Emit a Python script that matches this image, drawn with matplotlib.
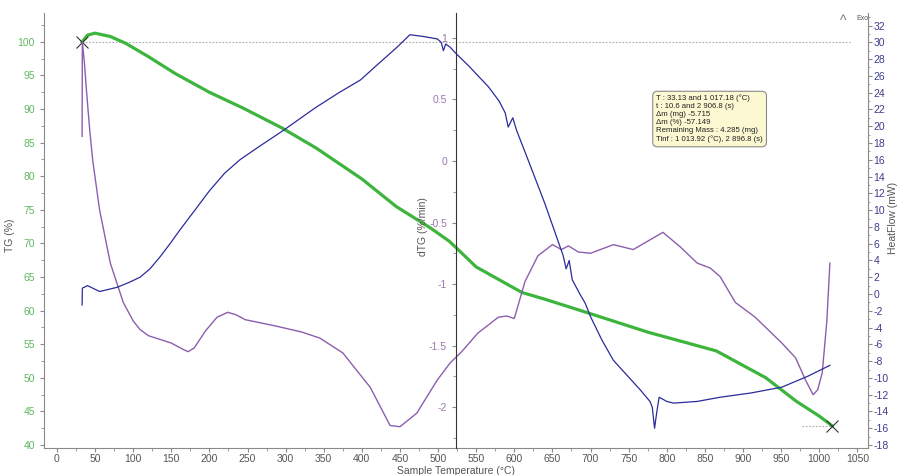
import numpy as np
import matplotlib
matplotlib.use("Agg")
import matplotlib.pyplot as plt

plt.rcParams['font.family'] = ['Liberation Sans', 'DejaVu Sans']
plt.rcParams['axes.unicode_minus'] = False

# TG curve (%), left axis
tg_temp = [33, 40, 50, 70, 90, 120, 155, 200, 245, 295, 340, 400, 445, 490, 515,
           550, 610, 640, 690, 775, 865, 930, 970, 1000, 1017]
tg_val = [100.0, 101.0, 101.3, 100.8, 99.8, 97.8, 95.3, 92.5, 90.1, 87.2, 84.2, 79.6,
          75.5, 72.3, 70.3, 66.5, 62.7, 61.7, 59.9, 56.8, 54.0, 50.0, 46.5, 44.3, 42.85]

# dTG curve (%/min), middle axis
dtg_temp = [33.0, 33.3, 36, 39, 43, 47, 56, 70, 87, 100, 109, 120, 135, 150, 165, 172,
            180, 195, 210, 224, 235, 247, 286, 321, 345, 375, 411, 437, 450, 472, 499,
            516, 531, 552, 579, 590, 600, 614, 631, 650, 662, 671, 684, 700, 730, 756,
            795, 818, 840, 857, 870, 890, 916, 951, 969, 982, 992, 998, 1004, 1010, 1014]
dtg_val = [0.20, 0.97, 0.80, 0.55, 0.25, 0.0, -0.40, -0.83, -1.15, -1.30, -1.37, -1.42,
           -1.45, -1.48, -1.53, -1.55, -1.52, -1.38, -1.27, -1.23, -1.25, -1.29, -1.34,
           -1.39, -1.44, -1.56, -1.84, -2.15, -2.16, -2.05, -1.78, -1.64, -1.55, -1.40,
           -1.27, -1.26, -1.28, -0.98, -0.77, -0.68, -0.72, -0.69, -0.74, -0.75, -0.68,
           -0.72, -0.58, -0.70, -0.83, -0.87, -0.94, -1.15, -1.27, -1.48, -1.60, -1.78,
           -1.90, -1.86, -1.72, -1.30, -0.83]

# Heat flow (mW), right axis
hf_temp = [33.0, 33.3, 40, 56, 79, 95, 109, 122, 135, 150, 161, 181, 200, 220, 240, 264,
           297, 339, 370, 398, 420, 446, 463, 480, 499, 504, 507, 510, 516, 522, 540,
           566, 580, 588, 592, 598, 603, 618, 640, 664, 668, 672, 676, 686, 693, 700,
           715, 730, 765, 778, 781, 784, 787, 790, 800, 809, 840, 870, 910, 951, 985, 1014]
hf_val = [-1.3, 0.7, 1.0, 0.3, 0.8, 1.4, 2.0, 3.0, 4.4, 6.2, 7.6, 10.0, 12.3, 14.4, 16.0,
          17.5, 19.5, 22.2, 24.0, 25.5, 27.3, 29.4, 30.9, 30.7, 30.4, 30.0, 29.0, 29.8,
          29.4, 28.8, 27.2, 24.7, 23.0, 21.6, 19.9, 21.0, 19.5, 16.0, 10.8, 4.6, 3.0,
          4.0, 1.7, 0.0, -1.1, -2.7, -5.5, -7.9, -11.4, -12.8, -13.5, -16.0, -14.0,
          -12.3, -12.8, -13.0, -12.8, -12.3, -11.8, -11.1, -9.8, -8.5]

x_ticks = list(range(0, 1051, 50))
tg_ticks = list(range(40, 101, 5))
dtg_ticks = [-2, -1.5, -1, -0.5, 0, 0.5, 1]
hf_ticks = list(range(-18, 33, 2))

info_lines = ["T : 33.13 and 1 017.18 (°C)",
              "t : 10.6 and 2 906.8 (s)",
              "Δm (mg) -5.715",
              "Δm (%) -57.149",
              "Remaining Mass : 4.285 (mg)",
              "Tinf : 1 013.92 (°C), 2 896.8 (s)"]

green = '#3db53d'
purple = '#8c5fae'
navy = '#2b2b9c'
spine_c = '#8a8a8a'

fig = plt.figure(figsize=(8.99, 4.75), dpi=100)
ax = fig.add_axes([44 / 899, 1 - 448 / 475, 824 / 899, 435 / 475])
ax2 = ax.twinx()
ax3 = ax.twinx()

# TG
ax.plot(tg_temp, tg_val, color=green, lw=2.3, zorder=3)
ax.plot([33, 1040], [100, 100], ls=(0, (1.5, 1.5)), color='#aaaaaa', lw=0.8, zorder=1)
ax.plot([978, 1017], [42.85, 42.85], ls=(0, (1.5, 1.5)), color='#aaaaaa', lw=0.8, zorder=1)
ax.plot([33.1, 1017.2], [100, 42.85], ls='none', marker='x', ms=8, mew=0.8,
        color='#333333', zorder=5)
ax.set_xlim(-17, 1064)
ax.set_ylim(39.55, 104.3)
ax.set_xticks(x_ticks)
ax.set_xticks(np.arange(25, 1064, 50), minor=True)
ax.set_yticks(tg_ticks)
ax.set_yticks(np.arange(42.5, 104, 2.5), minor=True)
ax.tick_params(axis='y', colors=spine_c, labelcolor='#5fb85f', labelsize=7.5, length=3)
ax.tick_params(axis='y', which='minor', colors=spine_c, length=2)
ax.tick_params(axis='x', colors=spine_c, labelcolor='#555555', labelsize=7.5, length=3,
               pad=1.5)
ax.tick_params(axis='x', which='minor', colors=spine_c, length=2)
ax.spines['top'].set_visible(False)
ax.spines['right'].set_visible(False)
ax.spines['left'].set_color(spine_c)
ax.spines['bottom'].set_color(spine_c)
ax.set_ylabel('TG (%)', fontsize=7.5, color='#555555')
ax.yaxis.set_label_coords(-0.035, 0.49)
ax.set_xlabel('Sample Temperature (°C)', fontsize=7.5, color='#555555')
ax.xaxis.set_label_coords(0.5, -0.041)

# dTG in the middle
ax2.plot(dtg_temp, dtg_val, color=purple, lw=1.0, zorder=2)
ax2.set_ylim(-2.333, 1.203)
ax2.set_yticks(dtg_ticks)
ax2.set_yticklabels(['-2', '-1.5', '-1', '-0.5', '0', '0.5', '1'])
ax2.set_yticks(np.arange(-2.25, 1.2, 0.25), minor=True)
ax2.spines['left'].set_visible(True)
ax2.spines['left'].set_position(('axes', 0.5))
ax2.spines['left'].set_color('#333333')
ax2.spines['right'].set_visible(False)
ax2.spines['top'].set_visible(False)
ax2.spines['bottom'].set_visible(False)
ax2.yaxis.set_ticks_position('left')
ax2.yaxis.set_label_position('left')
ax2.tick_params(axis='y', colors=spine_c, labelcolor='#9a78ae', labelsize=7.5, length=3)
ax2.tick_params(axis='y', which='minor', colors=spine_c, length=2)
ax2.set_ylabel('dTG (%/min)', fontsize=7.5, color='#555555')
ax2.yaxis.set_label_coords(0.466, 0.51)

# Heat flow on the right
ax3.plot(hf_temp, hf_val, color=navy, lw=0.9, zorder=2)
ax3.set_ylim(-18.35, 33.49)
ax3.set_yticks(hf_ticks)
ax3.set_yticks(np.arange(-18, 34, 1), minor=True)
ax3.spines['left'].set_visible(False)
ax3.spines['top'].set_visible(False)
ax3.spines['bottom'].set_visible(False)
ax3.spines['right'].set_color(spine_c)
ax3.tick_params(axis='y', colors=spine_c, labelcolor='#3d3d8c', labelsize=7.5,
                length=3, pad=1)
ax3.tick_params(axis='y', which='minor', colors=spine_c, length=1.5)
ax3.set_ylabel('HeatFlow (mW)', fontsize=7.5, color='#555555')
ax3.yaxis.set_label_coords(1.024, 0.53)

# info box
ax.text(0.743, 0.812, "\n".join(info_lines), transform=ax.transAxes, fontsize=5.6,
        va='top', ha='left', linespacing=1.2, color='#222222', zorder=6,
        bbox=dict(boxstyle='round,pad=0.45,rounding_size=0.6', fc='#fbf8d2',
                  ec='#8a8a8a', lw=0.8))

fig.text(843 / 899, 1 - 21 / 475, "^", fontsize=10, color='#777777', ha='center', va='center')
fig.text(856 / 899, 1 - 19 / 475, "Exo", fontsize=5, color='#555555', ha='left', va='center')

fig.savefig("out.png", dpi=100)
